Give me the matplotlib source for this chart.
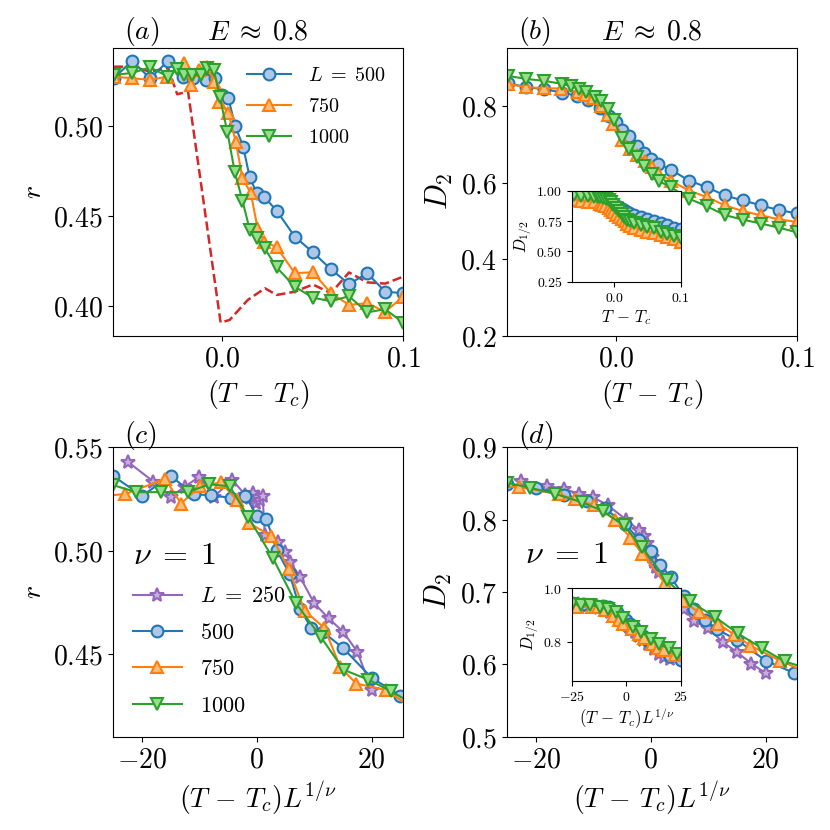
import numpy as np
import matplotlib.pyplot as plt

plt.rcParams['mathtext.fontset'] = 'cm'
plt.rcParams['font.family'] = 'serif'

# ---- data: T - Tc grids for each system size ----
x250 = [-0.09, -0.072, -0.06, -0.05, -0.04, -0.03, -0.017, -0.008, -0.0048, -0.0024, -0.0008,
        0.0008, 0.0024, 0.004, 0.0056, 0.015, 0.0196, 0.0232, 0.03, 0.04, 0.05, 0.06, 0.07, 0.08]
x500 = [-0.06, -0.05, -0.04, -0.03, -0.022, -0.016, -0.009, -0.004, 0.0, 0.0033, 0.007, 0.0115,
        0.015, 0.019, 0.023, 0.03, 0.04, 0.05, 0.06, 0.07, 0.08, 0.09, 0.1]
x750 = [-0.06, -0.05, -0.04, -0.0305, -0.0213, -0.0176, -0.0132, -0.0083, -0.0047, -0.0019,
        0.0033, 0.0074, 0.0111, 0.0157, 0.0194, 0.0231, 0.03, 0.04, 0.05, 0.06, 0.07, 0.08, 0.09, 0.1]
x1000 = [-0.06, -0.05, -0.04, -0.03, -0.025, -0.021, -0.0167, -0.012, -0.0083, -0.0047, -0.0015,
         0.0028, 0.0068, 0.0111, 0.0151, 0.0194, 0.0233, 0.03, 0.04, 0.05, 0.06, 0.07, 0.08, 0.09, 0.1]

# r (panels a, c)
r250 = [0.5431, 0.5334, 0.5261, 0.531, 0.5358, 0.5261, 0.5342, 0.5269, 0.5253, 0.5277, 0.5229,
        0.5261, 0.5245, 0.5265, 0.5076, 0.5044, 0.4995, 0.4947, 0.4874, 0.4745, 0.4673, 0.4608,
        0.4511, 0.4326]
r500 = [0.5265, 0.5361, 0.5265, 0.5361, 0.5274, 0.5267, 0.5256, 0.5265, 0.517, 0.5154, 0.5002,
        0.4885, 0.4718, 0.4626, 0.4607, 0.4529, 0.4385, 0.4298, 0.4204, 0.4121, 0.4182, 0.4079,
        0.4071]
r750 = [0.5274, 0.5265, 0.5256, 0.5274, 0.5348, 0.5228, 0.5311, 0.5330, 0.5246, 0.5135, 0.5071,
        0.4913, 0.4709, 0.4626, 0.4435, 0.4357, 0.4326, 0.4182, 0.4187, 0.4071, 0.4006, 0.4015,
        0.3968, 0.4052]
r1000 = [0.5283, 0.5294, 0.5325, 0.5274, 0.5317, 0.5283, 0.5283, 0.5283, 0.5321, 0.5311, 0.5163,
         0.4964, 0.4746, 0.4584, 0.4424, 0.4376, 0.4321, 0.4214, 0.4107, 0.4046, 0.4026, 0.4054,
         0.3964, 0.3982, 0.3906]

# red dashed reference curve in (a)
x_ref = [-0.06, -0.05, -0.04, -0.03, -0.025, -0.019, -0.001, 0.004, 0.014, 0.0235, 0.03, 0.04,
         0.05, 0.06, 0.07, 0.08, 0.09, 0.1]
r_ref = [0.5329, 0.5329, 0.5302, 0.5321, 0.5176, 0.5191, 0.3908, 0.3922, 0.4033, 0.4098, 0.4061,
         0.4079, 0.4119, 0.4071, 0.4186, 0.4131, 0.4124, 0.4163]

# D2 (panels b, d)
D2_250 = [0.854, 0.847, 0.842, 0.836, 0.831, 0.82, 0.80, 0.785, 0.778, 0.768, 0.758, 0.748, 0.742,
          0.735, 0.728, 0.692, 0.683, 0.677, 0.66, 0.65, 0.631, 0.617, 0.601, 0.588]
D2_500 = [0.859, 0.8486, 0.8433, 0.8345, 0.826, 0.8156, 0.794, 0.7723, 0.7567, 0.7377, 0.7203,
          0.6943, 0.6771, 0.6615, 0.6485, 0.6338, 0.6052, 0.5878, 0.5662, 0.5532, 0.5403, 0.528,
          0.5195]
D2_750 = [0.857, 0.8486, 0.846, 0.845, 0.835, 0.828, 0.82, 0.80, 0.775, 0.752, 0.712, 0.688, 0.672,
          0.656, 0.641, 0.626, 0.605, 0.5792, 0.5619, 0.5403, 0.5255, 0.5143, 0.504, 0.4969]
D2_1000 = [0.878, 0.870, 0.865, 0.857, 0.851, 0.844, 0.836, 0.824, 0.812, 0.792, 0.762, 0.716,
           0.687, 0.666, 0.643, 0.622, 0.604, 0.588, 0.558, 0.538, 0.515, 0.503, 0.493, 0.482, 0.47]

# D_1/2 inset of (b)
Dh500 = [0.953, 0.948, 0.943, 0.935, 0.928, 0.92, 0.91, 0.897, 0.887, 0.877, 0.865, 0.85, 0.84,
         0.83, 0.82, 0.805, 0.785, 0.765, 0.748, 0.732, 0.715, 0.698, 0.684]
Dh750 = [0.926, 0.92, 0.912, 0.905, 0.895, 0.885, 0.872, 0.858, 0.845, 0.83, 0.8, 0.782, 0.77,
         0.748, 0.728, 0.71, 0.69, 0.675, 0.662, 0.65, 0.637, 0.618, 0.6, 0.582]
Dh1000 = [0.967, 0.962, 0.955, 0.952, 0.95, 0.948, 0.943, 0.935, 0.926, 0.905, 0.88, 0.858, 0.836,
          0.81, 0.785, 0.761, 0.752, 0.735, 0.718, 0.705, 0.69, 0.662, 0.645, 0.625, 0.61]

# D_1/2 inset of (d), already in scaled units (T-Tc)L
xs250_in = [-22.5, -18, -15, -12.5, -10, -7.5, -4.25, -2, -1.2, -0.6, -0.2, 0.2, 0.6, 1.0, 1.4,
            3.75, 4.9, 5.8, 7.5, 10, 12.5, 15, 17.5, 20]
dh250_in = [0.94, 0.935, 0.93, 0.928, 0.922, 0.912, 0.895, 0.882, 0.876, 0.872, 0.868, 0.864, 0.86,
            0.856, 0.852, 0.835, 0.826, 0.82, 0.808, 0.79, 0.772, 0.755, 0.742, 0.735]
xs500_in = [-25, -20, -15, -11, -8, -4.5, -2, 0, 1.65, 3.5, 5.75, 7.5, 9.5, 11.5, 15, 20, 25]
dh500_in = [0.945, 0.94, 0.937, 0.935, 0.93, 0.91, 0.893, 0.88, 0.868, 0.855, 0.837, 0.82, 0.808,
            0.795, 0.775, 0.745, 0.73]
xs750_in = [-22.9, -16, -13.2, -9.9, -6.2, -3.5, -1.4, 2.5, 5.55, 8.3, 11.8, 14.5, 17.3, 22.5, 30]
dh750_in = [0.931, 0.93, 0.929, 0.92, 0.895, 0.88, 0.868, 0.846, 0.828, 0.812, 0.79, 0.778, 0.768,
            0.752, 0.735]
xs1000_in = [-25, -21, -16.7, -12, -8.3, -4.7, -1.5, 2.8, 6.8, 11.1, 15.1, 19.4, 23.3, 30]
dh1000_in = [0.94, 0.938, 0.938, 0.93, 0.922, 0.912, 0.888, 0.855, 0.838, 0.81, 0.79, 0.775, 0.755,
             0.74]

# line colour, marker face colour, marker
styles = {250: ('C4', '#c5b0d5', '*'), 500: ('C0', '#aec7e8', 'o'),
          750: ('C1', '#ffbb78', '^'), 1000: ('C2', '#98df8a', 'v')}


def curve(ax, x, y, L, label=None, ms=8.5):
    c, fc, m = styles[L]
    if m == '*':
        ms = ms + 1.5
    ax.plot(x, y, marker=m, color=c, mfc=fc, mec=c, ms=ms, mew=1.5, lw=1.5, label=label)


def ticks(ax, xt, xf, yt, yf, size=20):
    ax.set_xticks(xt, [f'${v:{xf}}$' for v in xt])
    ax.set_yticks(yt, [f'${v:{yf}}$' for v in yt])
    ax.tick_params(labelsize=size)


fig = plt.figure(figsize=(8.3, 8.3), dpi=100)
axa = fig.add_axes([0.1361, 0.5952, 0.3498, 0.347])
axb = fig.add_axes([0.6105, 0.5952, 0.3501, 0.347])
axc = fig.add_axes([0.1361, 0.1124, 0.3498, 0.3487])
axd = fig.add_axes([0.6105, 0.1124, 0.3501, 0.3487])
inb = fig.add_axes([0.6895, 0.6606, 0.1306, 0.1093])
ind = fig.add_axes([0.6895, 0.1799, 0.1306, 0.1113])

# (a)
axa.plot(x_ref, r_ref, '--', color='C3', lw=1.8)
curve(axa, x500, r500, 500, r'$L\;=\;500$')
curve(axa, x750, r750, 750, '$750$')
curve(axa, x1000, r1000, 1000, '$1000$')
axa.set_xlim(-0.0605, 0.1)
axa.set_ylim(0.3833, 0.5433)
ticks(axa, [0.0, 0.1], '.1f', [0.40, 0.45, 0.50], '.2f')
axa.set_xlabel(r'$(T\,-\,T_c)$', fontsize=20)
axa.set_ylabel('$r$', fontsize=20)
axa.legend(loc='upper right', frameon=False, fontsize=14.5, handlelength=2.2, labelspacing=0.6)
axa.set_title(r'$E\;\approx\;0.8$', fontsize=20)
axa.text(0.038, 1.03, '$(a)$', transform=axa.transAxes, fontsize=20, va='baseline')

# (b)
curve(axb, x500, D2_500, 500)
curve(axb, x750, D2_750, 750)
curve(axb, x1000, D2_1000, 1000)
axb.set_xlim(-0.0607, 0.1)
axb.set_ylim(0.2, 0.9507)
ticks(axb, [0.0, 0.1], '.1f', [0.2, 0.4, 0.6, 0.8], '.1f')
axb.set_xlabel(r'$(T\,-\,T_c)$', fontsize=20)
axb.set_ylabel('$D_2$', fontsize=22)
axb.set_title(r'$E\;\approx\;0.8$', fontsize=20)
axb.text(0.038, 1.03, '$(b)$', transform=axb.transAxes, fontsize=20, va='baseline')

curve(inb, x500, Dh500, 500)
curve(inb, x750, Dh750, 750)
curve(inb, x1000, Dh1000, 1000)
inb.set_xlim(-0.063, 0.1)
inb.set_ylim(0.25, 1.0)
ticks(inb, [0.0, 0.1], '.1f', [0.25, 0.5, 0.75, 1.0], '.2f', size=10)
inb.set_xlabel(r'$T\,-\,T_c$', fontsize=12, labelpad=2)
inb.set_ylabel('$D_{1/2}$', fontsize=12, labelpad=2)

# (c)
curve(axc, np.array(x250) * 250, r250, 250, r'$L\;=\;250$')
curve(axc, np.array(x500) * 500, r500, 500, '$500$')
curve(axc, np.array(x750) * 750, r750, 750, '$750$')
curve(axc, np.array(x1000) * 1000, r1000, 1000, '$1000$')
axc.set_xlim(-25.04, 25.5)
axc.set_ylim(0.41, 0.55)
ticks(axc, [-20, 0, 20], '.0f', [0.45, 0.50, 0.55], '.2f')
axc.set_xlabel(r'$(T\,-\,T_c)L^{1/\nu}$', fontsize=20)
axc.set_ylabel('$r$', fontsize=20)
axc.legend(loc='lower left', frameon=False, fontsize=16, handlelength=2.2, labelspacing=0.65,
           title=r'$\nu\;=\;1$', title_fontsize=23, alignment='left')
axc.text(0.038, 1.014, '$(c)$', transform=axc.transAxes, fontsize=20, va='baseline')

# (d)
curve(axd, np.array(x250) * 250, D2_250, 250)
curve(axd, np.array(x500) * 500, D2_500, 500)
curve(axd, np.array(x750) * 750, D2_750, 750)
curve(axd, np.array(x1000) * 1000, D2_1000, 1000)
axd.set_xlim(-25.04, 25.5)
axd.set_ylim(0.5, 0.9)
ticks(axd, [-20, 0, 20], '.0f', [0.5, 0.6, 0.7, 0.8, 0.9], '.1f')
axd.set_xlabel(r'$(T\,-\,T_c)L^{1/\nu}$', fontsize=20)
axd.set_ylabel('$D_2$', fontsize=22)
axd.text(0.063, 0.628, r'$\nu\;=\;1$', transform=axd.transAxes, fontsize=23, va='center')
axd.text(0.038, 1.014, '$(d)$', transform=axd.transAxes, fontsize=20, va='baseline')

curve(ind, xs250_in, dh250_in, 250)
curve(ind, xs500_in, dh500_in, 500)
curve(ind, xs750_in, dh750_in, 750)
curve(ind, xs1000_in, dh1000_in, 1000)
ind.set_xlim(-25, 25)
ind.set_ylim(0.654, 1.0)
ticks(ind, [-25, 0, 25], '.0f', [0.8, 1.0], '.1f', size=10)
ind.set_xlabel(r'$(T\,-\,T_c)L^{1/\nu}$', fontsize=12, labelpad=2)
ind.set_ylabel('$D_{1/2}$', fontsize=12, labelpad=2)

fig.savefig('out.png', dpi=100)
